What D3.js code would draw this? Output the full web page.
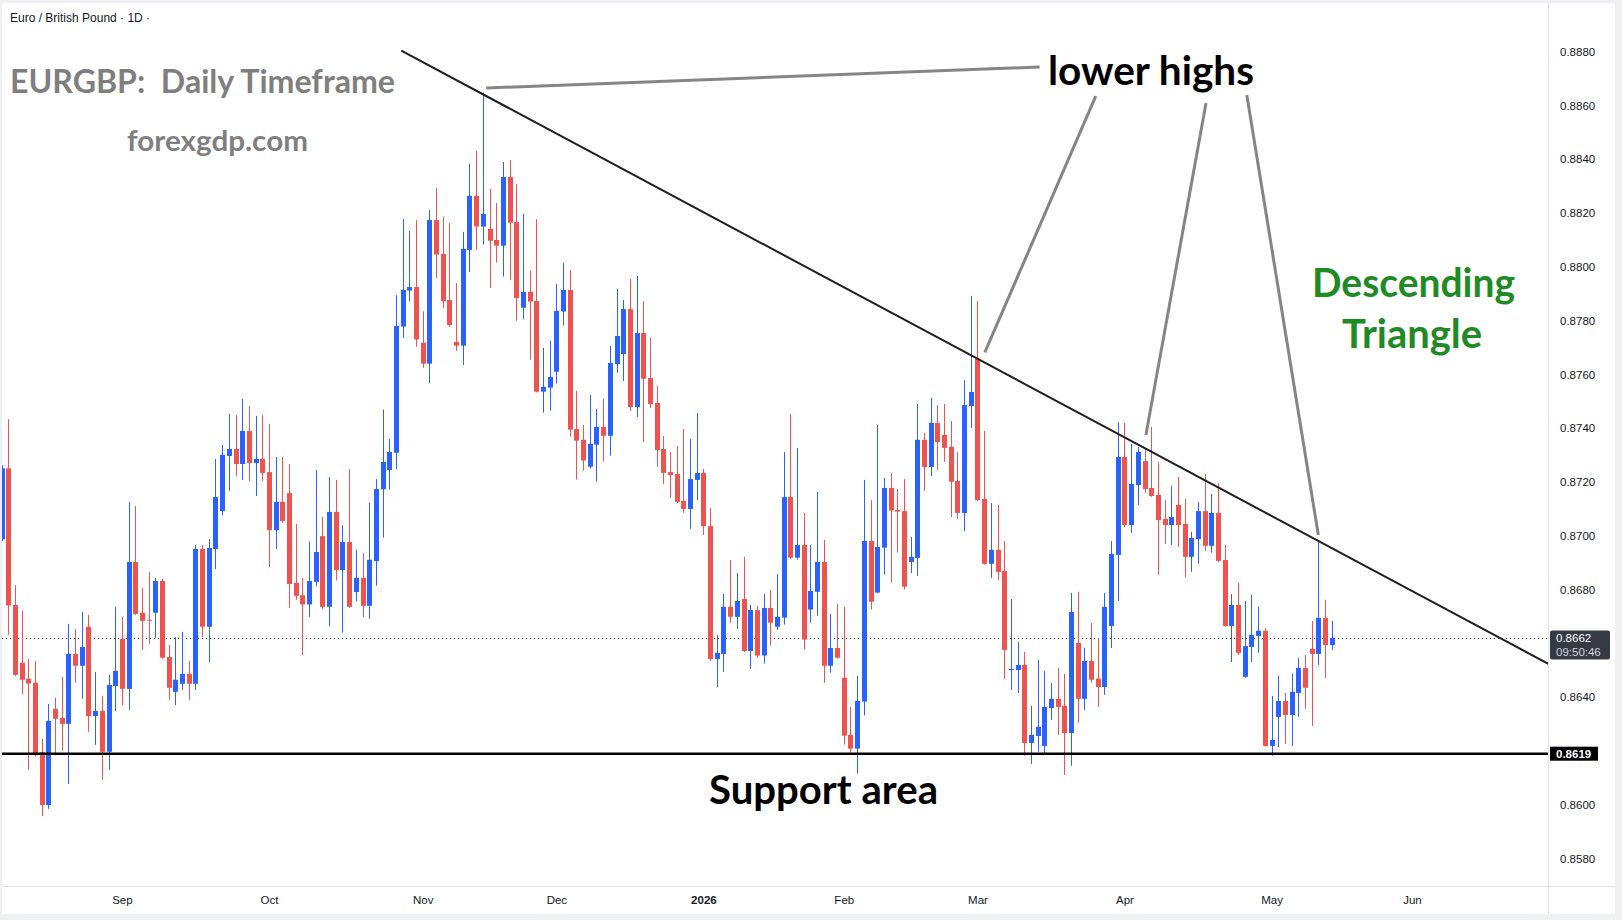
<!DOCTYPE html>
<html>
<head>
<meta charset="utf-8">
<script src="https://cdn.jsdelivr.net/npm/d3@7"></script>
<style>
  body { margin: 0; background: #fff; }
  svg { display: block; }
</style>
</head>
<body>
<script>
// EURGBP daily candles, first bar 2025-08-06
const startDate = '2025-08-06'
const holidays = ['2025-12-25', '2026-01-01']

const openPrices = [
  0.86987, 0.87251, 0.86743, 0.86528, 0.86469, 0.86454, 0.86195, 0.85999, 0.86357, 0.86323,
  0.86301, 0.86561, 0.86517, 0.86662, 0.86330, 0.86349, 0.86197, 0.86442, 0.86617, 0.86431,
  0.86903, 0.86714, 0.86688, 0.86714, 0.86832, 0.86550, 0.86420, 0.86450, 0.86487, 0.86450,
  0.86951, 0.86662, 0.86951, 0.87092, 0.87297, 0.87323, 0.87267, 0.87390, 0.87271, 0.87286,
  0.87237, 0.87021, 0.87126, 0.87159, 0.86825, 0.86779, 0.86745, 0.86829, 0.86999, 0.86736,
  0.87089, 0.86873, 0.86977, 0.86791, 0.86844, 0.86740, 0.86906, 0.87173, 0.87245, 0.87309,
  0.87778, 0.87912, 0.87925, 0.87718, 0.87640, 0.88174, 0.88048, 0.87877, 0.87721, 0.87707,
  0.88063, 0.88264, 0.88150, 0.88141, 0.88100, 0.88079, 0.88334, 0.88167, 0.87848, 0.87907,
  0.87873, 0.87536, 0.87551, 0.87610, 0.87834, 0.87914, 0.87397, 0.87357, 0.87257, 0.87339,
  0.87405, 0.87372, 0.87639, 0.87676, 0.87843, 0.87479, 0.87754, 0.87587, 0.87494, 0.87323,
  0.87237, 0.87230, 0.87130, 0.87100, 0.87208, 0.87234, 0.87036, 0.86542, 0.86561, 0.86736,
  0.86699, 0.86765, 0.86572, 0.86724, 0.86555, 0.86732, 0.86662, 0.86696, 0.87144, 0.86919,
  0.86966, 0.86726, 0.86792, 0.86903, 0.86517, 0.86583, 0.86472, 0.86260, 0.86209, 0.86384,
  0.86981, 0.86789, 0.86956, 0.87178, 0.87096, 0.87092, 0.86903, 0.86918, 0.87357, 0.87256,
  0.87420, 0.87375, 0.87331, 0.87204, 0.87085, 0.87483, 0.87658, 0.87137, 0.86896, 0.86948,
  0.86870, 0.86501, 0.86501, 0.86520, 0.86230, 0.86256, 0.86219, 0.86360, 0.86394, 0.86368,
  0.86267, 0.86602, 0.86394, 0.86535, 0.86469, 0.86438, 0.86665, 0.86929, 0.87293, 0.87040,
  0.87189, 0.87278, 0.87178, 0.87152, 0.87063, 0.87040, 0.87115, 0.87044, 0.86922, 0.86988,
  0.87092, 0.86963, 0.87085, 0.86910, 0.86665, 0.86743, 0.86476, 0.86587, 0.86628, 0.86647,
  0.86219, 0.86327, 0.86386, 0.86334, 0.86416, 0.86509, 0.86580, 0.86561, 0.86695, 0.86594
]
const highPrices = [
  0.87263, 0.87434, 0.86817, 0.86722, 0.86542, 0.86535, 0.86245, 0.86375, 0.86398, 0.86476,
  0.86673, 0.86654, 0.86717, 0.86706, 0.86494, 0.86405, 0.86483, 0.86736, 0.86699, 0.87126,
  0.87111, 0.86806, 0.86866, 0.86843, 0.86840, 0.86595, 0.86624, 0.86643, 0.86535, 0.86966,
  0.86966, 0.86988, 0.87286, 0.87338, 0.87453, 0.87449, 0.87509, 0.87483, 0.87446, 0.87449,
  0.87416, 0.87293, 0.87293, 0.87267, 0.87044, 0.86843, 0.86979, 0.87245, 0.87071, 0.87219,
  0.87208, 0.87040, 0.87248, 0.86949, 0.86937, 0.87123, 0.87211, 0.87470, 0.87360, 0.87895,
  0.88178, 0.88133, 0.88174, 0.87835, 0.88211, 0.88294, 0.88187, 0.88163, 0.87940, 0.88130,
  0.88383, 0.88431, 0.88648, 0.88290, 0.88238, 0.88390, 0.88397, 0.88308, 0.88197, 0.87985,
  0.88178, 0.87699, 0.87725, 0.87937, 0.88015, 0.87988, 0.87539, 0.87412, 0.87524, 0.87472,
  0.87509, 0.87706, 0.87918, 0.87877, 0.87955, 0.87966, 0.87873, 0.87736, 0.87557, 0.87371,
  0.87312, 0.87334, 0.87397, 0.87360, 0.87457, 0.87249, 0.87104, 0.86632, 0.86784, 0.86910,
  0.86862, 0.86922, 0.86743, 0.86739, 0.86784, 0.86799, 0.86858, 0.87312, 0.87453, 0.87327,
  0.87085, 0.86966, 0.87163, 0.86985, 0.86710, 0.86747, 0.86736, 0.86364, 0.86480, 0.87208,
  0.87133, 0.87412, 0.87215, 0.87234, 0.87174, 0.87211, 0.86996, 0.87490, 0.87383, 0.87513,
  0.87486, 0.87490, 0.87427, 0.87312, 0.87579, 0.87892, 0.87873, 0.87390, 0.87122, 0.87115,
  0.86981, 0.86765, 0.86605, 0.86568, 0.86368, 0.86539, 0.86498, 0.86453, 0.86509, 0.86487,
  0.86788, 0.86792, 0.86583, 0.86676, 0.86620, 0.86788, 0.86981, 0.87423, 0.87420, 0.87342,
  0.87330, 0.87327, 0.87405, 0.87275, 0.87133, 0.87186, 0.87219, 0.87137, 0.87015, 0.87126,
  0.87230, 0.87156, 0.87197, 0.86966, 0.86784, 0.86825, 0.86758, 0.86781, 0.86736, 0.86658,
  0.86405, 0.86480, 0.86416, 0.86487, 0.86546, 0.86557, 0.86684, 0.86981, 0.86762, 0.86684
]
const lowPrices = [
  0.86980, 0.86632, 0.86479, 0.86412, 0.86130, 0.86179, 0.85958, 0.85985, 0.86183, 0.86201,
  0.86078, 0.86454, 0.86394, 0.86271, 0.86223, 0.86093, 0.86130, 0.86349, 0.86371, 0.86353,
  0.86706, 0.86576, 0.86598, 0.86621, 0.86542, 0.86390, 0.86371, 0.86427, 0.86390, 0.86427,
  0.86624, 0.86531, 0.86877, 0.87077, 0.87167, 0.87222, 0.87208, 0.87204, 0.87148, 0.87204,
  0.86884, 0.86951, 0.87048, 0.86732, 0.86762, 0.86557, 0.86698, 0.86812, 0.86727, 0.86663,
  0.86834, 0.86640, 0.86732, 0.86757, 0.86698, 0.86692, 0.86815, 0.86993, 0.87173, 0.87248,
  0.87736, 0.87872, 0.87703, 0.87625, 0.87567, 0.87959, 0.87847, 0.87777, 0.87688, 0.87635,
  0.87981, 0.88063, 0.88083, 0.87922, 0.88016, 0.87964, 0.87951, 0.87800, 0.87804, 0.87655,
  0.87533, 0.87458, 0.87465, 0.87566, 0.87782, 0.87369, 0.87209, 0.87242, 0.87250, 0.87202,
  0.87276, 0.87298, 0.87606, 0.87576, 0.87464, 0.87442, 0.87349, 0.87475, 0.87256, 0.87193,
  0.87141, 0.87122, 0.87085, 0.87026, 0.87133, 0.87003, 0.86535, 0.86438, 0.86494, 0.86676,
  0.86654, 0.86568, 0.86505, 0.86546, 0.86525, 0.86592, 0.86651, 0.86670, 0.86915, 0.86911,
  0.86577, 0.86677, 0.86703, 0.86454, 0.86491, 0.86543, 0.86224, 0.86194, 0.86116, 0.86332,
  0.86726, 0.86786, 0.86856, 0.86826, 0.86938, 0.86800, 0.86862, 0.86851, 0.87167, 0.87222,
  0.87245, 0.87275, 0.87070, 0.87063, 0.87018, 0.87401, 0.87130, 0.86892, 0.86844, 0.86836,
  0.86468, 0.86427, 0.86416, 0.86182, 0.86152, 0.86197, 0.86189, 0.86316, 0.86260, 0.86111,
  0.86145, 0.86305, 0.86353, 0.86454, 0.86364, 0.86409, 0.86583, 0.86758, 0.87033, 0.87011,
  0.87115, 0.87160, 0.87145, 0.86855, 0.86970, 0.86966, 0.86959, 0.86844, 0.86866, 0.86896,
  0.86944, 0.86937, 0.86903, 0.86662, 0.86531, 0.86557, 0.86472, 0.86531, 0.86565, 0.86216,
  0.86182, 0.86215, 0.86226, 0.86219, 0.86327, 0.86357, 0.86293, 0.86520, 0.86472, 0.86576
]
const closePrices = [
  0.87251, 0.86741, 0.86483, 0.86465, 0.86451, 0.86188, 0.85999, 0.86312, 0.86320, 0.86301,
  0.86561, 0.86517, 0.86587, 0.86330, 0.86349, 0.86197, 0.86446, 0.86498, 0.86431, 0.86903,
  0.86710, 0.86684, 0.86685, 0.86832, 0.86547, 0.86435, 0.86465, 0.86487, 0.86450, 0.86951,
  0.86662, 0.86955, 0.87144, 0.87301, 0.87323, 0.87267, 0.87390, 0.87271, 0.87286, 0.87234,
  0.87021, 0.87126, 0.87055, 0.86821, 0.86777, 0.86745, 0.86832, 0.86940, 0.86736, 0.87089,
  0.86873, 0.86977, 0.86736, 0.86844, 0.86740, 0.86911, 0.87174, 0.87275, 0.87312, 0.87780,
  0.87914, 0.87925, 0.87730, 0.87640, 0.88174, 0.88046, 0.87872, 0.87784, 0.87707, 0.88067,
  0.88264, 0.88150, 0.88197, 0.88097, 0.88079, 0.88334, 0.88164, 0.87884, 0.87907, 0.87871,
  0.87536, 0.87554, 0.87591, 0.87836, 0.87914, 0.87395, 0.87354, 0.87280, 0.87342, 0.87405,
  0.87372, 0.87643, 0.87743, 0.87843, 0.87479, 0.87754, 0.87584, 0.87490, 0.87319, 0.87234,
  0.87226, 0.87126, 0.87100, 0.87211, 0.87234, 0.87036, 0.86542, 0.86565, 0.86736, 0.86699,
  0.86758, 0.86572, 0.86724, 0.86555, 0.86732, 0.86677, 0.86699, 0.87144, 0.86919, 0.86966,
  0.86614, 0.86795, 0.86903, 0.86517, 0.86583, 0.86547, 0.86257, 0.86209, 0.86386, 0.86981,
  0.86755, 0.86959, 0.87178, 0.87094, 0.87090, 0.86811, 0.86922, 0.87357, 0.87256, 0.87420,
  0.87349, 0.87327, 0.87201, 0.87085, 0.87486, 0.87535, 0.87133, 0.86896, 0.86948, 0.86866,
  0.86576, 0.86505, 0.86520, 0.86230, 0.86260, 0.86290, 0.86364, 0.86394, 0.86364, 0.86267,
  0.86717, 0.86394, 0.86535, 0.86465, 0.86438, 0.86736, 0.86933, 0.87293, 0.87040, 0.87193,
  0.87312, 0.87174, 0.87148, 0.87059, 0.87040, 0.87070, 0.87040, 0.86922, 0.86992, 0.87092,
  0.86963, 0.87085, 0.86907, 0.86665, 0.86743, 0.86565, 0.86590, 0.86632, 0.86647, 0.86219,
  0.86241, 0.86386, 0.86334, 0.86420, 0.86509, 0.86435, 0.86561, 0.86695, 0.86594, 0.86620
]

const priceTicks = [0.8880, 0.8860, 0.8840, 0.8820, 0.8800, 0.8780, 0.8760, 0.8740,
  0.8720, 0.8700, 0.8680, 0.8640, 0.8600, 0.8580]
const monthKeys = ['2025-09', '2025-10', '2025-11', '2025-12', '2026-01', '2026-02',
  '2026-03', '2026-04', '2026-05', '2026-06']
const monthLabels = ['Sep', 'Oct', 'Nov', 'Dec', '2026', 'Feb', 'Mar', 'Apr', 'May', 'Jun']

const currentPrice = 0.8662
const currentTime = '09:50:46'
const supportLevel = 0.8619
// [bar index, price] end points
const trendLine = [[59.8, 0.88804], [231.4, 0.86524]]
const pointerLines = [
  [[72.5, 0.88665], [155.3, 0.88743]],
  [[163.7, 0.88635], [147.1, 0.87682]],
  [[180.2, 0.88609], [171.2, 0.87375]],
  [[186.3, 0.88639], [197.0, 0.87003]]
]

function tradingDays(start, n) {
  const out = []
  const d = new Date(start + 'T12:00:00Z')
  while (out.length < n) {
    const dow = d.getUTCDay()
    const key = d.toISOString().slice(0, 10)
    if (dow !== 0 && dow !== 6 && !holidays.includes(key)) out.push(key)
    d.setUTCDate(d.getUTCDate() + 1)
  }
  return out
}

const days = tradingDays(startDate, 240)
const candles = openPrices.map((o, i) => ({
  i: i, date: days[i], o: o, h: highPrices[i], l: lowPrices[i], c: closePrices[i]
}))
const monthIdx = monthKeys.map(k => days.findIndex(d => d.startsWith(k)))

const W = 1622, H = 920
const plot = { left: 2, right: 1548, top: 3, bottom: 886 }
const up = '#2962ff', down = '#ef5350'

const svg = d3.select('body').append('svg')
  .attr('width', W)
  .attr('height', H)
  .style('font-family', '"Liberation Sans", Arial, sans-serif')

const x = d3.scaleLinear().domain([0, 199]).range([1.6, 1331.7])
const y = d3.scaleLinear().domain([0.8580, 0.8880]).range([858.6, 51.7])

// frame
svg.append('rect').attr('width', W).attr('height', H).attr('fill', '#eef0f4')
svg.append('rect')
  .attr('x', 2).attr('y', 3).attr('width', 1613).attr('height', 911)
  .attr('fill', '#fff')
svg.append('line')
  .attr('x1', plot.right + 0.5).attr('x2', plot.right + 0.5)
  .attr('y1', 3).attr('y2', 914)
  .attr('stroke', '#e0e3eb')
svg.append('line')
  .attr('x1', 2).attr('x2', 1615)
  .attr('y1', plot.bottom + 0.5).attr('y2', plot.bottom + 0.5)
  .attr('stroke', '#e0e3eb')

svg.append('clipPath').attr('id', 'plot')
  .append('rect')
  .attr('x', plot.left).attr('y', plot.top)
  .attr('width', plot.right - plot.left).attr('height', plot.bottom - plot.top)

const g = svg.append('g').attr('clip-path', 'url(#plot)')

// current price line
g.append('line')
  .attr('x1', plot.left).attr('x2', plot.right)
  .attr('y1', Math.round(y(currentPrice)) + 0.5).attr('y2', Math.round(y(currentPrice)) + 0.5)
  .attr('stroke', '#333')
  .attr('stroke-dasharray', '1,3')

// candles
const cg = g.selectAll('.candle')
  .data(candles)
  .enter()
  .append('g')
  .attr('class', 'candle')

cg.append('line')
  .attr('x1', d => Math.round(x(d.i)) + 0.5)
  .attr('x2', d => Math.round(x(d.i)) + 0.5)
  .attr('y1', d => y(d.h))
  .attr('y2', d => y(d.l))
  .attr('stroke', d => d.c >= d.o ? up : down)
  .attr('stroke-width', 1)

cg.append('rect')
  .attr('x', d => Math.round(x(d.i)) - 2)
  .attr('width', 5)
  .attr('y', d => y(Math.max(d.o, d.c)))
  .attr('height', d => Math.max(1, Math.abs(y(d.o) - y(d.c))))
  .attr('fill', d => d.c >= d.o ? up : down)

// support line
g.append('line')
  .attr('x1', plot.left).attr('x2', plot.right)
  .attr('y1', y(supportLevel)).attr('y2', y(supportLevel))
  .attr('stroke', '#000')
  .attr('stroke-width', 2.5)

// descending trend line
g.append('line')
  .attr('x1', x(trendLine[0][0])).attr('y1', y(trendLine[0][1]))
  .attr('x2', x(trendLine[1][0])).attr('y2', y(trendLine[1][1]))
  .attr('stroke', '#1e1e1e')
  .attr('stroke-width', 2)

// pointer lines to the highs
g.selectAll('.pointer')
  .data(pointerLines)
  .enter()
  .append('line')
  .attr('x1', d => x(d[0][0])).attr('y1', d => y(d[0][1]))
  .attr('x2', d => x(d[1][0])).attr('y2', d => y(d[1][1]))
  .attr('stroke', '#858585')
  .attr('stroke-width', 3)

// price axis
const yAxis = svg.append('g')
  .attr('transform', `translate(${plot.right}, 0)`)
  .call(d3.axisRight(y).tickValues(priceTicks).tickFormat(d3.format('.4f')).tickSize(0).tickPadding(12))
yAxis.select('.domain').remove()
yAxis.selectAll('text')
  .attr('fill', '#131722')
  .style('font-size', '11.5px')
  .style('font-family', '"Liberation Sans", Arial, sans-serif')

// time axis
const xAxis = svg.append('g')
  .attr('transform', `translate(0, ${plot.bottom})`)
  .call(d3.axisBottom(x).tickValues(monthIdx).tickFormat((d, i) => monthLabels[i]).tickSize(0).tickPadding(10))
xAxis.select('.domain').remove()
xAxis.selectAll('text')
  .attr('fill', '#131722')
  .style('font-size', '11.5px')
  .style('font-family', '"Liberation Sans", Arial, sans-serif')
  .style('font-weight', (d, i) => monthLabels[i] === '2026' ? 'bold' : 'normal')

// axis price badges
const cp = y(currentPrice)
svg.append('rect')
  .attr('x', plot.right + 2).attr('y', cp - 7.5)
  .attr('width', 60).attr('height', 29)
  .attr('rx', 2)
  .attr('fill', '#363a45')
svg.append('text')
  .attr('x', plot.right + 8).attr('y', cp + 4)
  .attr('fill', '#fff')
  .style('font-size', '11.5px')
  .text(d3.format('.4f')(currentPrice))
svg.append('text')
  .attr('x', plot.right + 8).attr('y', cp + 17.5)
  .attr('fill', '#d1d4dc')
  .style('font-size', '11.5px')
  .text(currentTime)

const sp = y(supportLevel)
svg.append('rect')
  .attr('x', plot.right + 2).attr('y', sp - 7)
  .attr('width', 48).attr('height', 14)
  .attr('fill', '#000')
svg.append('text')
  .attr('x', plot.right + 8).attr('y', sp + 4)
  .attr('fill', '#fff')
  .style('font-size', '11.5px')
  .style('font-weight', 'bold')
  .text(d3.format('.4f')(supportLevel))

// header
svg.append('text')
  .attr('x', 10).attr('y', 22)
  .attr('fill', '#131722')
  .style('font-size', '12px')
  .text('Euro / British Pound \u00b7 1D \u00b7')

const big = '"Lato", "Open Sans", sans-serif'
const notes = [
  { t: 'EURGBP:  Daily Timeframe', x: 10, y: 93, s: 32, c: '#7f7f7f', w: 385, a: 'start' },
  { t: 'forexgdp.com', x: 127, y: 151, s: 28, c: '#7f7f7f', w: 181, a: 'start' },
  { t: 'lower highs', x: 1048, y: 85, s: 40, c: '#000', w: 206, a: 'start' },
  { t: 'Descending', x: 1312, y: 297, s: 40, c: '#1f8b24', w: 203, a: 'start' },
  { t: 'Triangle', x: 1342, y: 348, s: 40, c: '#1f8b24', w: 140, a: 'start' },
  { t: 'Support area', x: 709, y: 804, s: 40, c: '#000', w: 229, a: 'start' }
]
svg.selectAll('.note')
  .data(notes)
  .enter()
  .append('text')
  .attr('class', 'note')
  .attr('x', d => d.x)
  .attr('y', d => d.y)
  .attr('fill', d => d.c)
  .attr('textLength', d => d.w)
  .attr('lengthAdjust', 'spacingAndGlyphs')
  .style('font-family', big)
  .style('font-weight', 'bold')
  .style('font-size', d => d.s + 'px')
  .style('white-space', 'pre')
  .text(d => d.t)
</script>
</body>
